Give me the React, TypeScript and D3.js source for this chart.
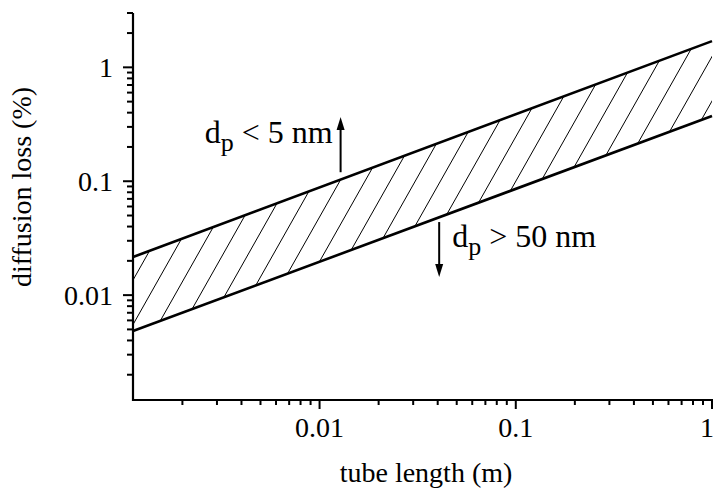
import React from "react";
import * as d3 from "d3";

// Data (log-log straight bands)
const tubeLength = [0.00112, 1];
const upperLoss = [0.0216, 1.7]; // boundary for d_p < 5 nm
const lowerLoss = [0.00484, 0.374]; // boundary for d_p > 50 nm
const xDomain = [0.00112, 1];
const yDomain = [0.0012, 3];
const xMajorTicks = [0.01, 0.1, 1];
const xTickLabels = ["0.01", "0.1", "1"];
const yMajorTicks = [0.01, 0.1, 1];
const yTickLabels = ["0.01", "0.1", "1"];

// annotation arrows (data coordinates)
const upArrow = { x: 0.0128, from: 0.12, to: 0.366 };
const downArrow = { x: 0.0407, from: 0.0438, to: 0.0144 };

const W = 715;
const H = 492;
const FONT = "'Liberation Serif', 'Times New Roman', serif";

function minorTicks(domain: number[]) {
  const out: number[] = [];
  for (let e = -4; e <= 1; e++) {
    for (let m = 1; m <= 9; m++) {
      const v = +(m * Math.pow(10, e)).toPrecision(6);
      if (v >= domain[0] * 0.9999 && v <= domain[1] * 1.0001) out.push(v);
    }
  }
  return out;
}

export default function App() {
  const left = 133,
    right = 712,
    top = 13,
    bottom = 400;
  const x = d3.scaleLog().domain(xDomain).range([left, right]);
  const y = d3.scaleLog().domain(yDomain).range([bottom, top]);

  const pts = tubeLength.map((t, i) => ({ t, hi: upperLoss[i], lo: lowerLoss[i] }));
  const upperLine = d3
    .line<any>()
    .x((d) => x(d.t))
    .y((d) => y(d.hi))(pts) as string;
  const lowerLine = d3
    .line<any>()
    .x((d) => x(d.t))
    .y((d) => y(d.lo))(pts) as string;
  const band = d3
    .area<any>()
    .x((d) => x(d.t))
    .y0((d) => y(d.lo))
    .y1((d) => y(d.hi))(pts) as string;

  // hatch: parallel lines x' + y'/m = k*s, origin at plot top-left
  const m = 1.77;
  const s = 25.15;
  const ph = bottom - top;
  const pw = right - left;
  const hatch: string[] = [];
  for (let c = 0; c <= pw + ph / m + s; c += s) {
    hatch.push(`M${left + c},${top} L${left + c - ph / m},${bottom}`);
  }

  const xTicks = minorTicks(xDomain);
  const yTicks = minorTicks(yDomain);
  const isMajor = (v: number, majors: number[]) => majors.some((mm) => Math.abs(mm - v) / mm < 1e-6);

  const arrowHead = (px: number, py: number, dir: number) =>
    `M${px},${py} L${px - 4},${py - dir * 13} L${px + 4},${py - dir * 13} Z`;

  const ux = x(upArrow.x);
  const uy0 = y(upArrow.from);
  const uy1 = y(upArrow.to);
  const dx = x(downArrow.x);
  const dy0 = y(downArrow.from);
  const dy1 = y(downArrow.to);

  return (
    <svg
      width={W}
      height={H}
      style={{ position: "fixed", left: 0, top: 0, background: "#fff" }}
      fontFamily={FONT}
    >
      <defs>
        <clipPath id="bandClip">
          <path d={band} />
        </clipPath>
      </defs>
      <rect width={W} height={H} fill="#fff" />
      <g clipPath="url(#bandClip)">
        {hatch.map((d, i) => (
          <path key={i} d={d} stroke="#000" strokeWidth={1} fill="none" />
        ))}
      </g>
      <path d={upperLine} stroke="#000" strokeWidth={2.6} fill="none" />
      <path d={lowerLine} stroke="#000" strokeWidth={2.6} fill="none" />

      {/* axes */}
      <line x1={left} x2={left} y1={top} y2={bottom + 1} stroke="#000" strokeWidth={2.2} />
      <line x1={left - 1} x2={right + 1} y1={bottom} y2={bottom} stroke="#000" strokeWidth={2.2} />
      {yTicks.map((v, i) => {
        const maj = isMajor(v, yMajorTicks);
        return (
          <line
            key={"yt" + i}
            x1={left}
            x2={left - (maj ? 10 : 6)}
            y1={y(v)}
            y2={y(v)}
            stroke="#000"
            strokeWidth={2}
          />
        );
      })}
      {xTicks.map((v, i) => {
        const maj = isMajor(v, xMajorTicks);
        return (
          <line
            key={"xt" + i}
            x1={x(v)}
            x2={x(v)}
            y1={bottom}
            y2={bottom + (maj ? 9 : 5)}
            stroke="#000"
            strokeWidth={2}
          />
        );
      })}
      {yMajorTicks.map((v, i) => (
        <text key={"yl" + i} x={left - 20} y={y(v)} dy="0.35em" textAnchor="end" fontSize={28}>
          {yTickLabels[i]}
        </text>
      ))}
      {xMajorTicks.map((v, i) => (
        <text key={"xl" + i} x={Math.min(x(v), W - 8)} y={437} textAnchor="middle" fontSize={28}>
          {xTickLabels[i]}
        </text>
      ))}
      <text x={426} y={482} textAnchor="middle" fontSize={28}>
        tube length (m)
      </text>
      <text transform={`translate(31,${187}) rotate(-90)`} textAnchor="middle" fontSize={28}>
        diffusion loss (%)
      </text>

      {/* annotations */}
      <line x1={ux} x2={ux} y1={uy0} y2={uy1 + 10} stroke="#000" strokeWidth={2} />
      <path d={arrowHead(ux, uy1, -1)} fill="#000" />
      <text x={ux - 8} y={143} textAnchor="end" fontSize={32}>
        d
        <tspan fontSize={26} dy={8}>
          p
        </tspan>
        <tspan dy={-8}> &lt; 5 nm</tspan>
      </text>

      <line x1={dx} x2={dx} y1={dy0} y2={dy1 - 10} stroke="#000" strokeWidth={2} />
      <path d={arrowHead(dx, dy1, 1)} fill="#000" />
      <text x={dx + 13} y={247} textAnchor="start" fontSize={32}>
        d
        <tspan fontSize={26} dy={8}>
          p
        </tspan>
        <tspan dy={-8}> &gt; 50 nm</tspan>
      </text>
    </svg>
  );
}
